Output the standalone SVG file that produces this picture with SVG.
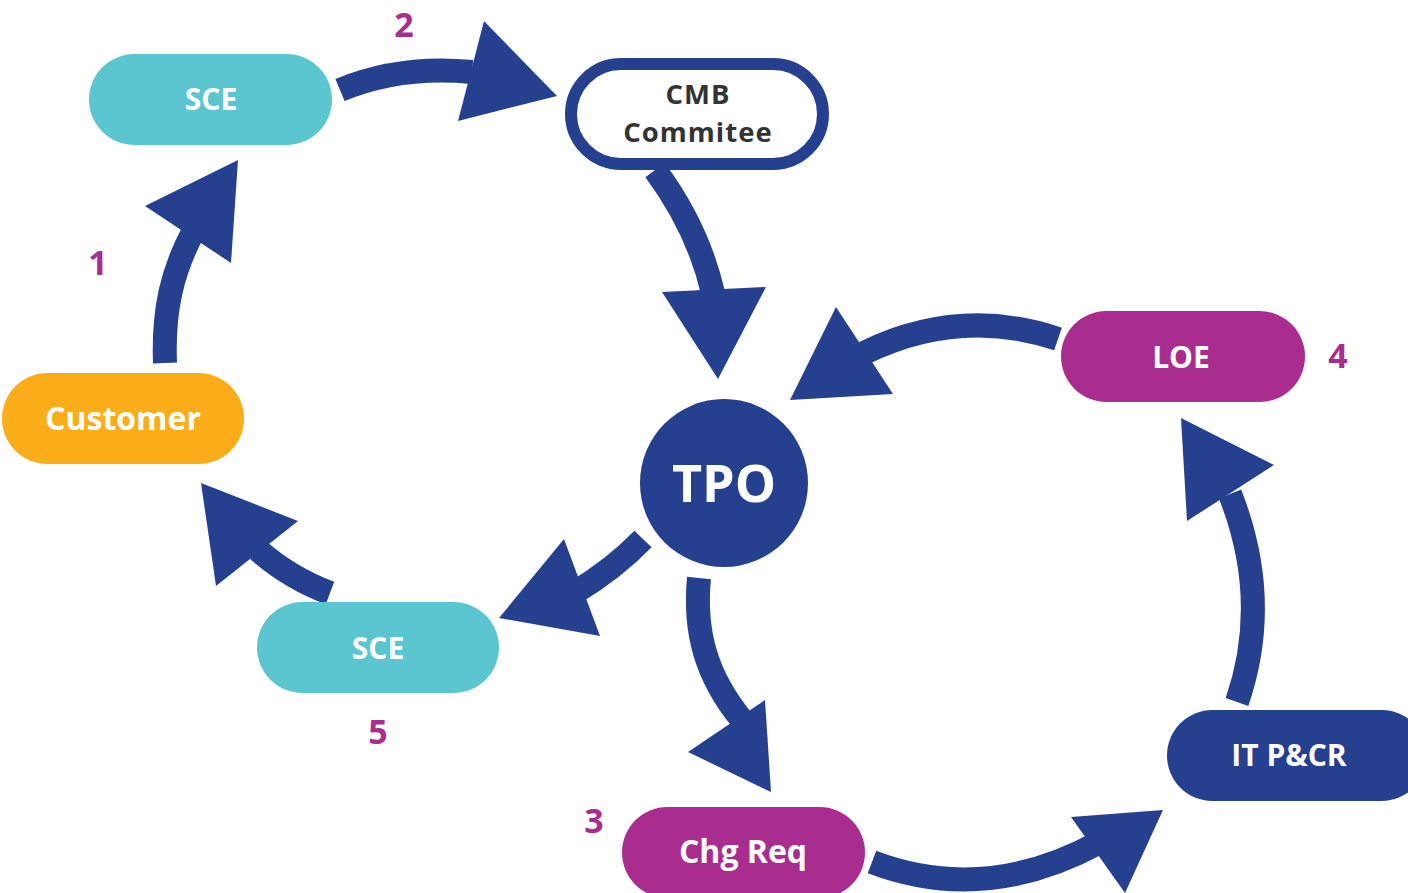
<svg xmlns="http://www.w3.org/2000/svg" width="1408" height="893" viewBox="0 0 1408 893">
<style>
.lbl{font-family:"Open Sans","Liberation Sans",sans-serif;font-weight:bold;fill:#ffffff;text-anchor:middle}
.dark{fill:#333333;font-size:27.5px;letter-spacing:1px}
.num{font-family:"Open Sans","Liberation Sans",sans-serif;font-weight:bold;fill:#A92D8F;text-anchor:middle;font-size:34px}
.shaft{fill:none;stroke:#25408F;stroke-width:24;stroke-linecap:butt}
.head{fill:#25408F}
</style>
<rect width="1408" height="893" fill="#ffffff"/>
<g id="connectors">
  <path class="shaft" d="M165,363 C163,310 172,272 193,232"/>
  <polygon class="head" points="145,206 238,160 231,263"/>
  <path class="shaft" d="M340,90 Q400,65 472,72"/>
  <polygon class="head" points="458,121 484,21 557,96"/>
  <path class="shaft" d="M655,170 Q698,228 713,293"/>
  <polygon class="head" points="662,292 766,287 718,379"/>
  <path class="shaft" d="M1058,339 Q960,306 864,353"/>
  <polygon class="head" points="836,307 893,394 790,400"/>
  <path class="shaft" d="M643,539 Q614,569 574,593"/>
  <polygon class="head" points="564,539 600,636 499,618"/>
  <path class="shaft" d="M330,593 Q290,578 258,550"/>
  <polygon class="head" points="201,483 298,521 216,586"/>
  <path class="shaft" d="M699,578 C694,630 705,675 742,720"/>
  <polygon class="head" points="688,752 765,700 771,792"/>
  <path class="shaft" d="M872,862 Q985,905 1100,842"/>
  <polygon class="head" points="1071,817 1163,810 1125,893"/>
  <path class="shaft" d="M1237,702 Q1272,600 1230,494"/>
  <polygon class="head" points="1187,521 1181,418 1274,465"/>
</g>
<g id="node-sce-top">
  <rect x="89" y="54" width="243" height="91" rx="45.5" fill="#5BC6D0"/>
  <text class="lbl" x="211" y="110" font-size="30">SCE</text>
</g>
<g id="node-cmb">
  <rect x="571" y="64" width="252" height="100" rx="50" fill="#ffffff" stroke="#25408F" stroke-width="12"/>
  <text class="lbl dark" x="698" y="104">CMB</text>
  <text class="lbl dark" x="698" y="142">Commitee</text>
</g>
<g id="node-tpo">
  <circle cx="724" cy="483" r="84" fill="#25408F"/>
  <text class="lbl" x="724" y="502" font-size="52">TPO</text>
</g>
<g id="node-loe">
  <rect x="1061" y="311" width="244" height="91" rx="45.5" fill="#A92D8F"/>
  <text class="lbl" x="1181" y="368" font-size="30">LOE</text>
</g>
<g id="node-customer">
  <rect x="2" y="373" width="242" height="91" rx="45.5" fill="#FAAC19"/>
  <text class="lbl" x="123" y="430" font-size="32">Customer</text>
</g>
<g id="node-sce-bottom">
  <rect x="257" y="602" width="242" height="91" rx="45.5" fill="#5BC6D0"/>
  <text class="lbl" x="378" y="659" font-size="30">SCE</text>
</g>
<g id="node-chgreq">
  <rect x="622" y="807" width="243" height="91" rx="45.5" fill="#A92D8F"/>
  <text class="lbl" x="743" y="863" font-size="32">Chg Req</text>
</g>
<g id="node-itpcr">
  <rect x="1167" y="710" width="260" height="91" rx="45.5" fill="#25408F"/>
  <text class="lbl" x="1289" y="766" font-size="30">IT P&amp;CR</text>
</g>
<g id="numbers">
  <text class="num" x="98" y="275">1</text>
  <text class="num" x="404" y="37">2</text>
  <text class="num" x="594" y="833">3</text>
  <text class="num" x="1338" y="368">4</text>
  <text class="num" x="378" y="744">5</text>
</g>
</svg>
